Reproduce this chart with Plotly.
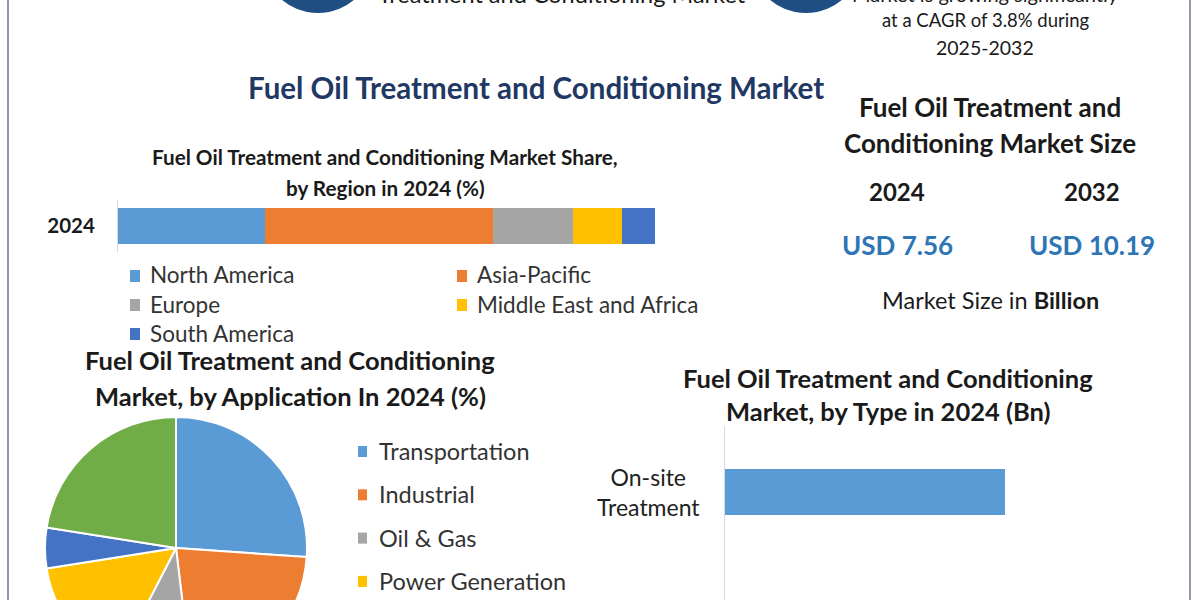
import plotly.graph_objects as go

W, H = 1200, 700

# ---------------- data ----------------
share_year = ["2024"]
regions = ["North America", "Asia-Pacific", "Europe", "Middle East and Africa", "South America"]
region_share = [27.4, 42.5, 14.9, 9.1, 6.1]
region_colors = ["#5b9bd5", "#ed7d31", "#a5a5a5", "#ffc000", "#4472c4"]

applications = ["Transportation", "Industrial", "Oil & Gas", "Power Generation", "Marine", "Others"]
app_share = [26.1, 22.0, 9.5, 14.9, 5.0, 22.5]
app_colors = ["#5b9bd5", "#ed7d31", "#a5a5a5", "#ffc000", "#4472c4", "#70ad47"]

types = ["On-site Treatment", "Off-site Treatment"]
type_labels = ["On-site<br>Treatment", "Off-site<br>Treatment"]
type_value = [4.5, 3.06]

size_years = ["2024", "2032"]
size_values = ["USD 7.56", "USD 10.19"]
cagr_text = "at a CAGR of 3.8% during"
cagr_period = "2025-2032"

FONT = "Lato"
DARK = "#1a1a1a"
NAVY = "#1f3864"
VAL_BLUE = "#2e75b6"


def X(px):
    return px / W


def Y(py):
    return 1 - py / H


fig = go.Figure()

# stacked share bar
for name, val, col in zip(regions, region_share, region_colors):
    fig.add_trace(go.Bar(x=[val], y=share_year, orientation="h", name=name,
                         marker=dict(color=col, line=dict(width=0)), width=[0.69],
                         xaxis="x", yaxis="y", showlegend=False, hoverinfo="x+name"))

# type bars
fig.add_trace(go.Bar(x=type_value, y=types, orientation="h", width=[0.347] * len(types),
                     marker=dict(color="#5b9bd5", line=dict(width=0)),
                     xaxis="x2", yaxis="y2", showlegend=False))

# application pie
fig.add_trace(go.Pie(labels=applications, values=app_share, sort=False, direction="clockwise",
                     rotation=0, textinfo="none",
                     marker=dict(colors=app_colors, line=dict(color="white", width=2)),
                     domain=dict(x=[X(45), X(307)], y=[Y(679), Y(417)]), showlegend=False))

ann = []
shapes = []


def text(x, y, t, size, color=DARK, bold=False, xanchor="center"):
    ann.append(dict(x=X(x), y=Y(y), xref="paper", yref="paper", text=t, showarrow=False,
                    xanchor=xanchor, yanchor="middle",
                    font=dict(family=FONT, size=size, color=color, weight="bold" if bold else "normal")))


# borders
shapes.append(dict(type="line", xref="paper", yref="paper", x0=X(8), x1=X(8), y0=0, y1=1,
                   line=dict(color="#6b7a8c", width=1.5)))
shapes.append(dict(type="line", xref="paper", yref="paper", x0=X(1190), x1=X(1190), y0=0, y1=1,
                   line=dict(color="#6b7a8c", width=1.5)))

# top decorations (cut off circles)
for cx in (318, 806):
    shapes.append(dict(type="circle", xref="paper", yref="paper", x0=X(cx - 56), x1=X(cx + 56),
                       y0=Y(13), y1=Y(-99), fillcolor="#1f4e83", line=dict(width=0)))
text(562, -6, "Treatment and Conditioning Market", 23.5)
text(985, -6, "Market is growing significantly", 20)
text(985, 20, cagr_text, 18.5)
text(985, 47, cagr_period, 19.5)

# main title
text(536, 88, "Fuel Oil Treatment and Conditioning Market", 29.5, NAVY, True)

# share chart title
text(385, 157, "Fuel Oil Treatment and Conditioning Market Share,", 20.7, DARK, True)
text(385, 188, "by Region in 2024 (%)", 20.7, DARK, True)

# region legend
for i, (name, col) in enumerate(zip(regions, region_colors)):
    c, r = i % 2, i // 2
    sx = [135, 462][c]
    sy = [275, 304, 333][r]
    shapes.append(dict(type="rect", xref="paper", yref="paper", x0=X(sx - 5), x1=X(sx + 5),
                       y0=Y(sy + 7), y1=Y(sy - 5), fillcolor=col, line=dict(width=0)))
    text(sx + 13, sy, name, 22.5, "#333333", xanchor="left")

# pie title
text(290, 360, "Fuel Oil Treatment and Conditioning", 25.5, DARK, True)
text(290, 396, "Market, by Application In 2024 (%)", 25.5, DARK, True)

# pie legend
for i, (name, col) in enumerate(zip(applications, app_colors)):
    sy = 451 + i * 43.3
    shapes.append(dict(type="rect", xref="paper", yref="paper", x0=X(358), x1=X(367),
                       y0=Y(sy + 6), y1=Y(sy - 5), fillcolor=col, line=dict(width=0)))
    text(377, sy, name, 23.5, "#333333", xanchor="left")

# type chart title
text(888, 378, "Fuel Oil Treatment and Conditioning", 25.5, DARK, True)
text(888, 411, "Market, by Type in 2024 (Bn)", 25.5, DARK, True)
for lab, cat in zip(type_labels, types):
    ann.append(dict(x=X(648), y=cat, xref="paper", yref="y2", text=lab, showarrow=False,
                    xanchor="center", yanchor="middle", align="center",
                    font=dict(family=FONT, size=23, color="#222222")))

# market size panel
text(990, 107, "Fuel Oil Treatment and", 26, DARK, True)
text(990, 143, "Conditioning Market Size", 26, DARK, True)
for xc, yr, v in zip((897, 1092), size_years, size_values):
    text(xc, 192, yr, 24, DARK, True)
    text(xc, 245, v, 26, VAL_BLUE, True)
text(990, 300, "Market Size in <b>Billion</b>", 23.5, DARK)

fig.update_layout(
    width=W, height=H, margin=dict(l=0, r=0, t=0, b=0),
    paper_bgcolor="white", plot_bgcolor="white",
    barmode="stack", font=dict(family=FONT),
    xaxis=dict(domain=[X(118), X(655)], range=[0, 100], visible=False, anchor="y", fixedrange=True),
    yaxis=dict(domain=[Y(252), Y(200)], range=[-0.5, 0.5], type="category", anchor="x",
               showline=True, linecolor="#d9d9d9", linewidth=1, showgrid=False, ticks="",
               ticklabelstandoff=18,
               tickfont=dict(family=FONT, size=20.5, color=DARK, weight="bold")),
    xaxis2=dict(domain=[X(725), X(1130)], range=[0, 6.5], visible=False, anchor="y2"),
    yaxis2=dict(domain=[Y(691), Y(426)], range=[1.5, -0.5], type="category", anchor="x2",
                showline=True, linecolor="#d9d9d9", linewidth=1, showgrid=False,
                showticklabels=False, ticks=""),
    annotations=ann, shapes=shapes,
)

fig.write_html("out.html", post_script=(
    "document.documentElement.style.overflow='hidden';"
    "document.body.style.overflow='hidden';document.body.style.margin='0';"))
